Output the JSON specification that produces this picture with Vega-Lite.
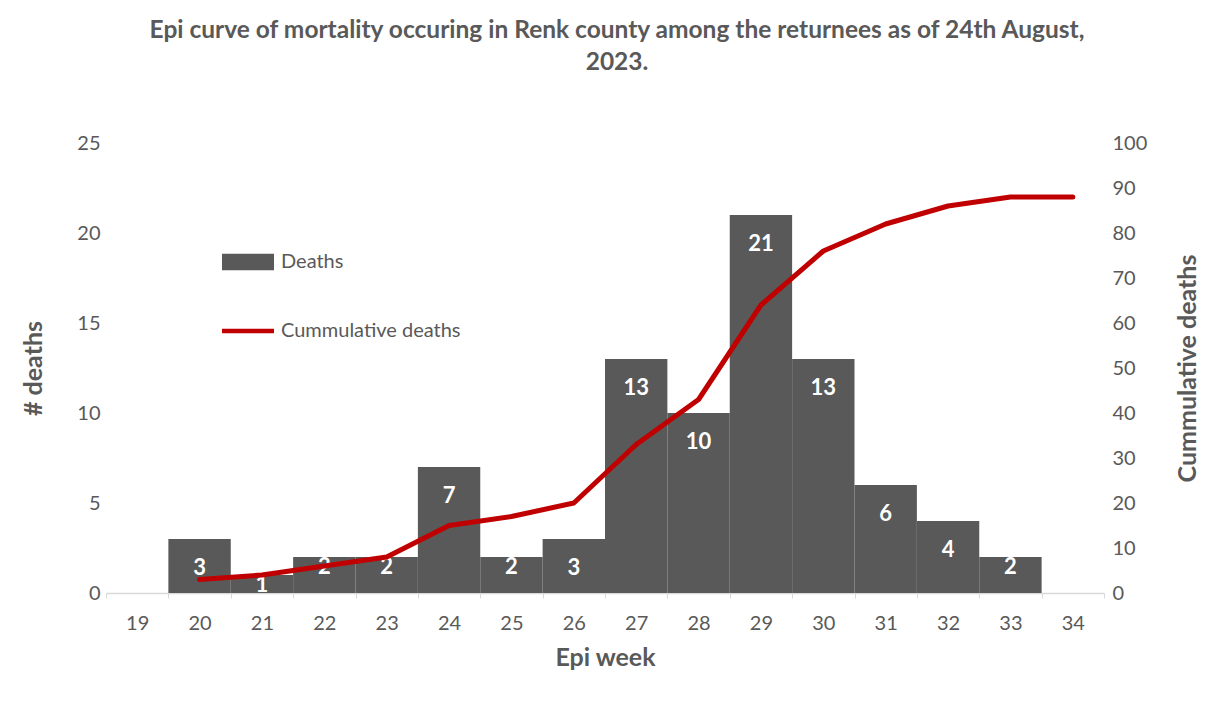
{
  "$schema": "https://vega.github.io/schema/vega-lite/v6.json",
  "width": 998,
  "height": 450,
  "autosize": "none",
  "padding": {"left": 106, "top": 143, "right": 105, "bottom": 120},
  "background": "white",
  "config": {
    "view": {"stroke": null},
    "font": "Lato",
    "axis": {"labelFont": "Lato", "titleFont": "Lato", "labelColor": "#595959", "titleColor": "#595959", "grid": false}
  },
  "title": {
    "text": ["Epi curve of mortality occuring in Renk county among the returnees as of 24th August,", "2023."],
    "font": "Lato",
    "fontSize": 24.5,
    "fontWeight": "bold",
    "color": "#595959",
    "lineHeight": 32,
    "offset": 58,
    "dx": 12,
    "anchor": "middle"
  },
  "data": {
    "values": [
      {"week": "19", "Deaths": 0, "Cumulative": null},
      {"week": "20", "Deaths": 3, "Cumulative": 3},
      {"week": "21", "Deaths": 1, "Cumulative": 4},
      {"week": "22", "Deaths": 2, "Cumulative": 6},
      {"week": "23", "Deaths": 2, "Cumulative": 8},
      {"week": "24", "Deaths": 7, "Cumulative": 15},
      {"week": "25", "Deaths": 2, "Cumulative": 17},
      {"week": "26", "Deaths": 3, "Cumulative": 20},
      {"week": "27", "Deaths": 13, "Cumulative": 33},
      {"week": "28", "Deaths": 10, "Cumulative": 43},
      {"week": "29", "Deaths": 21, "Cumulative": 64},
      {"week": "30", "Deaths": 13, "Cumulative": 76},
      {"week": "31", "Deaths": 6, "Cumulative": 82},
      {"week": "32", "Deaths": 4, "Cumulative": 86},
      {"week": "33", "Deaths": 2, "Cumulative": 88},
      {"week": "34", "Deaths": 0, "Cumulative": 88}
    ]
  },
  "encoding": {
    "x": {
      "field": "week",
      "type": "ordinal",
      "sort": null,
      "scale": {"paddingInner": 0, "paddingOuter": 0},
      "axis": {
        "title": "Epi week",
        "titleFontSize": 25,
        "titleFontWeight": "bold",
        "titlePadding": 12,
        "labelAngle": 0,
        "labelFontSize": 20,
        "labelPadding": 15,
        "domainColor": "#d9d9d9",
        "domainWidth": 1.5,
        "tickColor": "#d9d9d9",
        "tickSize": 5,
        "tickBand": "extent"
      }
    }
  },
  "layer": [
    {
      "layer": [
        {
          "mark": {"type": "bar", "color": "#595959"},
          "encoding": {
            "y": {
              "field": "Deaths",
              "type": "quantitative",
              "scale": {"domain": [0, 25], "nice": false},
              "axis": {
                "title": "# deaths",
                "titleFontSize": 25,
                "titleFontWeight": "bold",
                "titlePadding": 30,
                "values": [0, 5, 10, 15, 20, 25],
                "labelFontSize": 20,
                "labelPadding": 6,
                "domain": false,
                "ticks": false
              }
            },
            "color": {
              "datum": "Deaths",
              "type": "nominal",
              "scale": {"domain": ["Deaths", "Cummulative deaths"], "range": ["#595959", "#C00000"]},
              "legend": {
                "title": null,
                "orient": "none",
                "legendX": 116,
                "legendY": 93,
                "symbolSize": 2704,
                "labelFontSize": 20,
                "labelColor": "#595959",
                "labelFont": "Lato",
                "labelOffset": 7,
                "labelLimit": 0,
                "rowPadding": 33,
                "padding": 0,
                "encode": {
                  "symbols": {
                    "update": {
                      "shape": {"signal": "datum.value === 'Deaths' ? 'M-1,-0.32H1V0.32H-1Z' : 'M-1,-0.09H1V0.09H-1Z'"},
                      "fill": {"signal": "datum.value === 'Deaths' ? '#595959' : '#C00000'"},
                      "stroke": {"value": "transparent"},
                      "strokeWidth": {"value": 0},
                      "opacity": {"value": 1}
                    }
                  }
                }
              }
            }
          }
        },
        {
          "transform": [{"filter": "datum.Deaths >= 3"}],
          "mark": {"type": "text", "color": "white", "fontSize": 22, "fontWeight": "bold", "font": "Lato", "baseline": "middle", "dy": 29},
          "encoding": {
            "y": {"field": "Deaths", "type": "quantitative"},
            "text": {"field": "Deaths", "type": "quantitative"}
          }
        },
        {
          "transform": [{"filter": "datum.Deaths > 0 && datum.Deaths < 3"}],
          "mark": {"type": "text", "color": "white", "fontSize": 22, "fontWeight": "bold", "font": "Lato", "baseline": "middle", "dy": 10},
          "encoding": {
            "y": {"field": "Deaths", "type": "quantitative"},
            "text": {"field": "Deaths", "type": "quantitative"}
          }
        }
      ]
    },
    {
      "mark": {"type": "line", "color": "#C00000", "strokeWidth": 5, "strokeCap": "round", "strokeJoin": "round"},
      "encoding": {
        "y": {
          "field": "Cumulative",
          "type": "quantitative",
          "scale": {"domain": [0, 100], "nice": false},
          "axis": {
            "orient": "right",
            "title": "Cummulative deaths",
            "titleAngle": 270,
            "titleFontSize": 25,
            "titleFontWeight": "bold",
            "titlePadding": 54,
            "values": [0, 10, 20, 30, 40, 50, 60, 70, 80, 90, 100],
            "labelFontSize": 20,
            "labelPadding": 8,
            "domain": false,
            "ticks": false
          }
        },
        "color": {"datum": "Cummulative deaths", "type": "nominal"}
      }
    }
  ],
  "resolve": {"scale": {"y": "independent"}}
}
